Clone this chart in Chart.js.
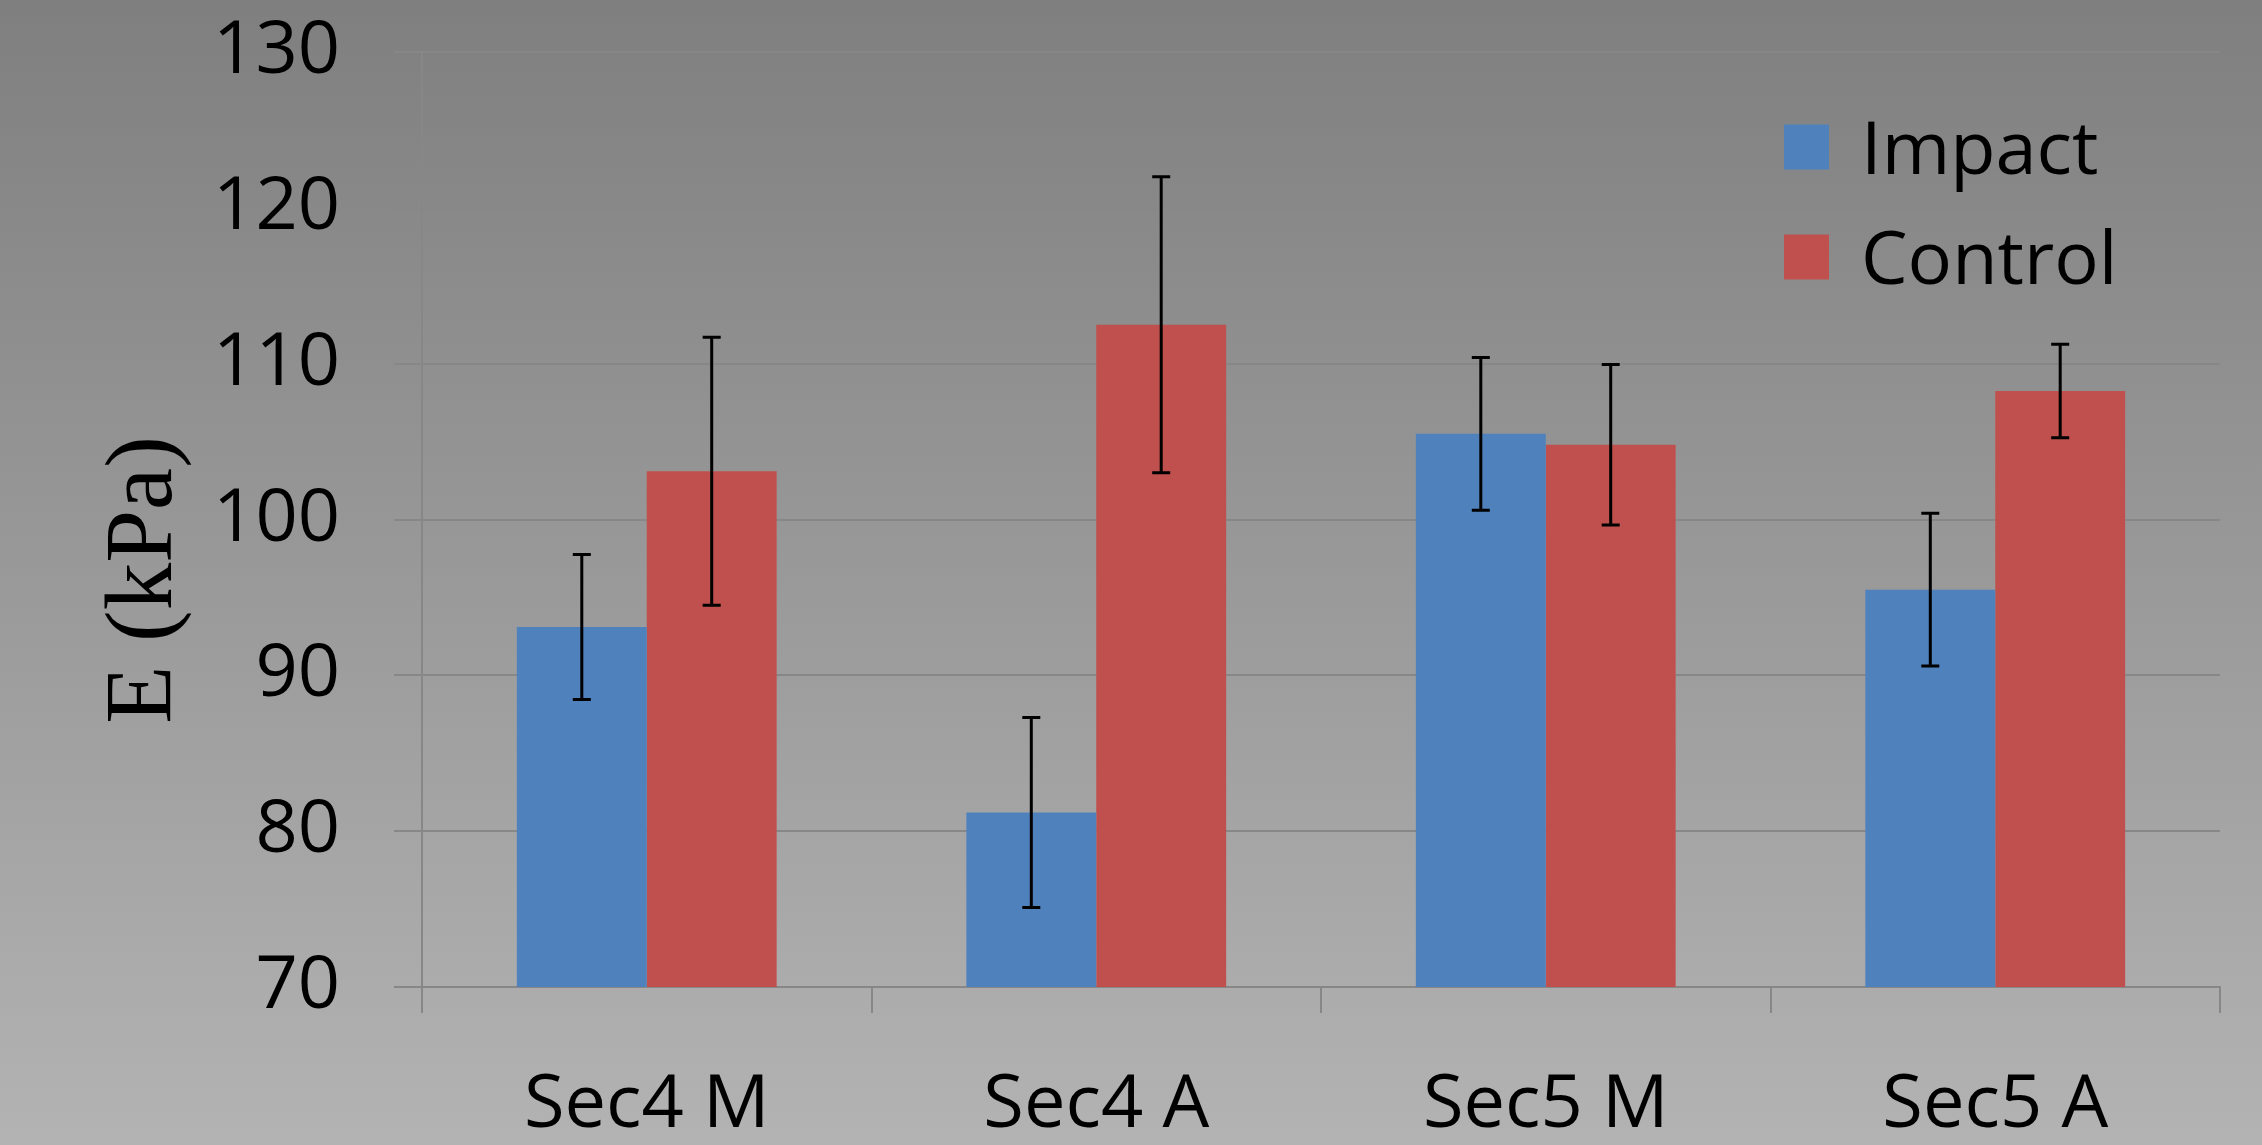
<!DOCTYPE html>
<html><head><meta charset="utf-8">
<script src="https://cdn.jsdelivr.net/npm/chart.js@4.4.1/dist/chart.umd.min.js"></script>
<style>html,body{margin:0;padding:0;background:#999;overflow:hidden}canvas{display:block}</style>
</head><body>
<canvas id="c" width="2262" height="1145"></canvas>
<script>
const categories = ['Sec4 M', 'Sec4 A', 'Sec5 M', 'Sec5 A'];
const impactValues = [93.1, 81.2, 105.5, 95.5];
const impactErrors = [4.65, 6.1, 4.9, 4.9];
const controlValues = [103.1, 112.5, 104.8, 108.25];
const controlErrors = [8.6, 9.5, 5.15, 3.0];
const seriesNames = ['Impact', 'Control'];
const yMin = 70, yMax = 130, yStep = 10;
const yTitle = 'E (kPa)';

const FONT = "'Open Sans', 'Noto Sans', sans-serif";
const LABEL_SIZE = 74;
const GRID = '#878787';

const bgPlugin = {
  id: 'bg',
  beforeDraw(chart) {
    const ctx = chart.ctx;
    const g = ctx.createLinearGradient(0, 0, 0, chart.height);
    g.addColorStop(0, '#7f7f7f');
    g.addColorStop(1, '#b3b3b3');
    ctx.save();
    ctx.fillStyle = g;
    ctx.fillRect(0, 0, chart.width, chart.height);
    ctx.restore();
  }
};

const errorBarPlugin = {
  id: 'errorBars',
  afterDatasetsDraw(chart) {
    const ctx = chart.ctx, y = chart.scales.y;
    chart.data.datasets.forEach((ds, i) => {
      const meta = chart.getDatasetMeta(i);
      meta.data.forEach((bar, j) => {
        const v = ds.data[j], e = ds.errors[j];
        const yT = y.getPixelForValue(v + e), yB = y.getPixelForValue(v - e);
        const cap = 9;
        ctx.save();
        ctx.strokeStyle = '#000';
        ctx.lineWidth = 3;
        ctx.beginPath();
        ctx.moveTo(bar.x, yT); ctx.lineTo(bar.x, yB);
        ctx.moveTo(bar.x - cap, yT); ctx.lineTo(bar.x + cap, yT);
        ctx.moveTo(bar.x - cap, yB); ctx.lineTo(bar.x + cap, yB);
        ctx.stroke();
        ctx.restore();
      });
    });
  }
};

const legendPlugin = {
  id: 'customLegend',
  afterDraw(chart) {
    const ctx = chart.ctx;
    const x0 = 1784, y0 = 147, gap = 110, sq = 45;
    ctx.save();
    ctx.font = LABEL_SIZE + 'px ' + FONT;
    ctx.textAlign = 'left';
    ctx.textBaseline = 'alphabetic';
    chart.data.datasets.forEach((ds, i) => {
      const cy = y0 + i * gap;
      ctx.fillStyle = ds.backgroundColor;
      ctx.fillRect(x0, cy - sq / 2, sq, sq);
      ctx.fillStyle = '#000';
      ctx.fillText(ds.label, x0 + 77, cy + 27);
    });
    ctx.restore();
  }
};

const yTitlePlugin = {
  id: 'yTitle',
  afterDraw(chart) {
    const ctx = chart.ctx;
    ctx.save();
    ctx.translate(171, 580);
    ctx.rotate(-Math.PI / 2);
    ctx.font = "95px 'Liberation Serif', 'Times New Roman', serif";
    ctx.fillStyle = '#000';
    ctx.textAlign = 'center';
    ctx.textBaseline = 'alphabetic';
    ctx.fillText(yTitle, 0, 0);
    ctx.restore();
  }
};

Chart.defaults.font.family = FONT;
Chart.defaults.color = '#000';

new Chart(document.getElementById('c'), {
  type: 'bar',
  data: {
    labels: categories,
    datasets: [
      { label: seriesNames[0], data: impactValues, errors: impactErrors, backgroundColor: '#4F81BD', borderWidth: 0 },
      { label: seriesNames[1], data: controlValues, errors: controlErrors, backgroundColor: '#C0504D', borderWidth: 0 }
    ]
  },
  options: {
    responsive: false,
    animation: false,
    devicePixelRatio: 1,
    categoryPercentage: 0.578,
    barPercentage: 1.0,
    layout: { padding: { left: 0, right: 42, top: 52, bottom: 0 } },
    plugins: { legend: { display: false }, tooltip: { enabled: false } },
    scales: {
      x: {
        grid: { display: true, drawOnChartArea: false, drawTicks: true, tickLength: 26, color: GRID, lineWidth: 2, offset: true },
        border: { display: true, color: GRID, width: 2 },
        ticks: { font: { size: LABEL_SIZE }, padding: 49, color: '#000', maxRotation: 0 },
        afterFit(s) { s.height = 158; s.paddingLeft = 0; s.paddingRight = 0; }
      },
      y: {
        min: yMin, max: yMax,
        grid: { color: GRID, lineWidth: 2, tickLength: 28, drawTicks: true },
        border: { display: true, color: GRID, width: 2 },
        ticks: { stepSize: yStep, font: { size: LABEL_SIZE }, padding: 54, color: '#000' },
        afterFit(s) { s.width = 422; s.paddingTop = 0; s.paddingBottom = 0; }
      }
    }
  },
  plugins: [bgPlugin, errorBarPlugin, legendPlugin, yTitlePlugin]
});
</script>
</body></html>
